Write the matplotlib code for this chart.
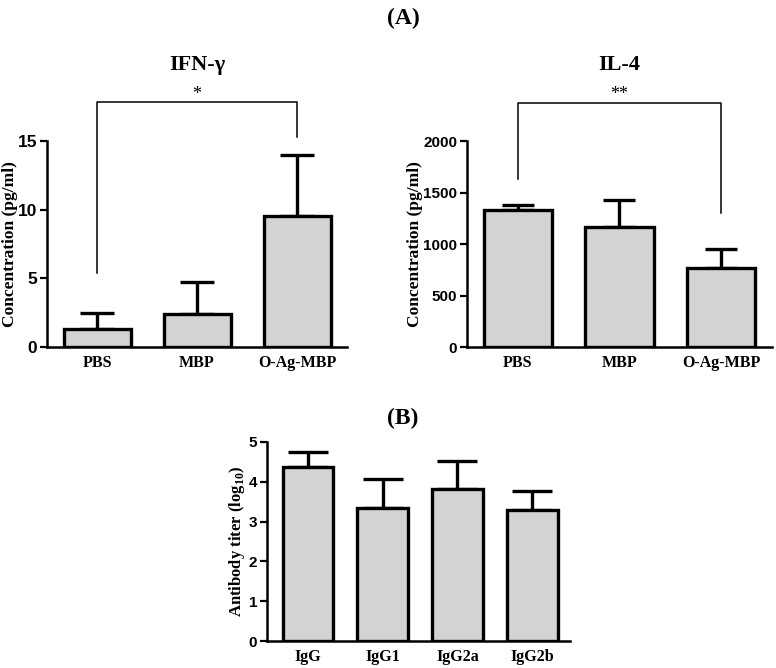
import numpy as np
from matplotlib import pyplot as plt

groups = ['PBS', 'MBP', 'O-Ag-MBP']
ifn_mean = [1.3, 2.4, 9.55]
ifn_err = [1.2, 2.3, 4.4]
il4_mean = [1330, 1170, 770]
il4_err = [45, 260, 185]

iso = ['IgG', 'IgG1', 'IgG2a', 'IgG2b']
iso_mean = [4.38, 3.34, 3.81, 3.29]
iso_err = [0.37, 0.72, 0.70, 0.48]

serif = 'Liberation Serif'
sans = 'Liberation Sans'
grey = '#d3d3d3'

plt.rcParams['mathtext.fontset'] = 'custom'
plt.rcParams['mathtext.rm'] = 'Liberation Serif'
plt.rcParams['mathtext.bf'] = 'Liberation Serif:bold'


def bar_panel(ax, labels, vals, errs, ylim, yticks, ylabel, width, cap, tick_fs):
    x = np.arange(len(labels))
    ax.bar(x, vals, width=width, color=grey, edgecolor='black', linewidth=2.4, zorder=2)
    ax.errorbar(x, vals, yerr=[np.zeros(len(vals)), errs], fmt='none', ecolor='black',
                elinewidth=2.4, capsize=cap, capthick=2.4, zorder=1)
    ax.set_xlim(-0.5, len(labels) - 0.5)
    ax.set_ylim(*ylim)
    ax.set_yticks(yticks)
    ax.set_xticks(x)
    ax.set_xticklabels(labels, fontfamily=serif, fontweight='bold', fontsize=11.5)
    for t in ax.get_yticklabels():
        t.set_fontfamily(sans)
        t.set_fontweight('bold')
        t.set_fontsize(tick_fs)
    ax.tick_params(axis='x', length=0, pad=6)
    ax.tick_params(axis='y', length=5, width=1.6, pad=2)
    ax.spines['top'].set_visible(False)
    ax.spines['right'].set_visible(False)
    ax.spines['left'].set_linewidth(1.8)
    ax.spines['bottom'].set_linewidth(1.8)
    ax.set_ylabel(ylabel, fontfamily=serif, fontweight='bold', fontsize=12.5)


def bracket(ax, x1, x2, top, leg1, leg2, text, ty):
    ax.plot([x1, x1, x2, x2], [leg1, top, top, leg2], color='black', linewidth=1.1,
            clip_on=False)
    ax.text((x1 + x2) / 2, ty, text, ha='center', va='center', fontsize=13,
            fontfamily=serif, clip_on=False)


fig = plt.figure(figsize=(7.76, 6.68), dpi=100)

ax1 = fig.add_axes([0.0606, 0.4805, 0.3866, 0.3084])
bar_panel(ax1, groups, ifn_mean, ifn_err, (0, 15), [0, 5, 10, 15], 'Concentration (pg/ml)', 0.67, 12.5, 12.5)
ax1.set_title('IFN-γ', fontfamily=serif, fontweight='bold', fontsize=16, pad=51)
ax1.yaxis.set_label_coords(-0.098, 0.5)
bracket(ax1, 0, 2, 17.85, 5.4, 15.3, '*', 18.4)

ax2 = fig.add_axes([0.6018, 0.4805, 0.393, 0.3084])
bar_panel(ax2, groups, il4_mean, il4_err, (0, 2000), [0, 500, 1000, 1500, 2000], 'Concentration (pg/ml)', 0.67, 11.5, 11)
ax2.set_title('IL-4', fontfamily=serif, fontweight='bold', fontsize=16, pad=51)
ax2.yaxis.set_label_coords(-0.144, 0.5)
bracket(ax2, 0, 2, 2370, 1630, 1300, '**', 2455)

ax3 = fig.add_axes([0.344, 0.0404, 0.390, 0.298])
bar_panel(ax3, iso, iso_mean, iso_err, (0, 5), [0, 1, 2, 3, 4, 5], r'Antibody titer (log$_{\mathbf{10}}$)', 0.68, 14.5, 11)
ax3.set_xlim(-0.55, 3.5)
ax3.yaxis.label.set_fontsize(12)
ax3.yaxis.set_label_coords(-0.066, 0.5)

fig.text(0.52, 0.973, '(A)', ha='center', va='center', fontfamily=serif, fontweight='bold', fontsize=17)
fig.text(0.519, 0.374, '(B)', ha='center', va='center', fontfamily=serif, fontweight='bold', fontsize=17)

fig.savefig('out.png', dpi=100)
